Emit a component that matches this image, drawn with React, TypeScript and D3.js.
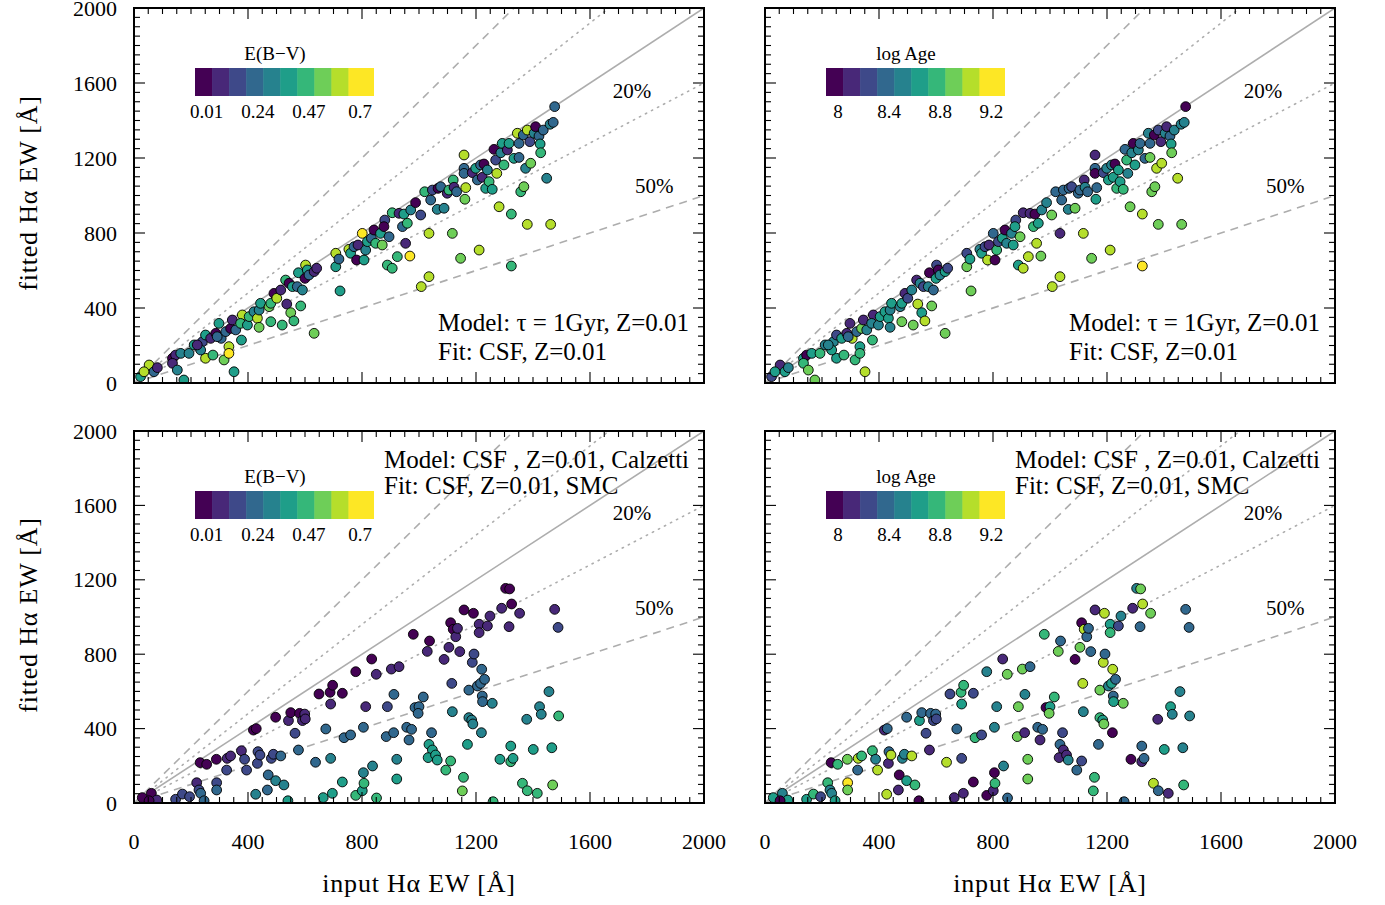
import React from "react";
import * as d3 from "d3";

// ---- Top row: model τ = 1 Gyr, Z=0.01 fitted with CSF, Z=0.01 ----
const topInputEW = [
  23, 53, 70, 82, 35, 135, 146, 135, 152, 175,
  164, 193, 211, 228, 240, 251, 251, 277, 269, 287,
  298, 306, 316, 333, 333, 322, 339, 345, 351, 357,
  380, 374, 377, 398, 404, 421, 433, 439, 439, 444,
  474, 480, 480, 491, 501, 515, 520, 532, 536, 544,
  550, 556, 561, 573, 577, 585, 591, 600, 602, 608,
  614, 632, 641, 632, 708, 708, 719, 723, 754, 760,
  772, 781, 786, 801, 807, 813, 819, 833, 842, 848,
  871, 865, 880, 877, 895, 889, 906, 906, 924, 930,
  942, 947, 953, 959, 968, 971, 988, 1006, 1008, 1020,
  1035, 1035, 1041, 1047, 1064, 1067, 1076, 1088, 1099, 1105,
  1117, 1120, 1123, 1132, 1146, 1158, 1158, 1158, 1161, 1164,
  1187, 1199, 1205, 1211, 1216, 1228, 1222, 1234, 1240, 1246,
  1257, 1263, 1269, 1273, 1281, 1287, 1292, 1298, 1310, 1316,
  1324, 1324, 1333, 1345, 1351, 1357, 1366, 1368, 1374, 1380,
  1380, 1389, 1392, 1351, 1404, 1409, 1421, 1425, 1427, 1436,
  1448, 1462, 1460, 1471, 1476, 234, 222, 292,
];
const topFittedEW = [
  34, 96, 60, 82, 60, 132, 149, 105, 69, 16,
  158, 158, 203, 194, 220, 256, 132, 149, 238, 265,
  318, 238, 123, 194, 158, 274, 291, 336, 60, 283,
  363, 318, 229, 309, 354, 380, 345, 389, 297, 425,
  407, 327, 425, 478, 452, 496, 309, 549, 421, 532,
  375, 514, 331, 514, 588, 411, 496, 558, 629, 603,
  576, 594, 612, 265, 692, 620, 661, 491, 713, 692,
  727, 656, 736, 798, 656, 709, 754, 772, 816, 745,
  736, 798, 869, 834, 780, 629, 908, 612, 674, 905,
  834, 901, 745, 852, 677, 923, 962, 896, 514, 1020,
  567, 798, 976, 1029, 926, 1038, 1047, 932, 1012, 1029,
  798, 1083, 1044, 1020, 665, 1216, 1145, 1118, 980, 1042,
  1122, 1145, 1083, 709, 1163, 1168, 1097, 1038, 1136, 1074,
  1033, 1246, 1189, 1118, 940, 1228, 1278, 1163, 1243, 1278,
  624, 901, 1198, 1332, 1278, 1020, 1323, 1047, 1145, 846,
  1349, 1287, 1172, 1203, 1332, 1367, 1317, 1275, 1228, 1349,
  1092, 846, 1380, 1390, 1474, 176, 203, 247,
];
const topEBV = [
  0.38, 0.6, 0.23, 0.08, 0.6, 0, 0.08, 0.08, 0.3, 0.38,
  0.3, 0.3, 0.38, 0.3, 0.15, 0.38, 0.6, 0.45, 0.08, 0,
  0.38, 0.23, 0.53, 0.6, 0.7, 0.23, 0, 0.08, 0.38, 0.23,
  0.6, 0.45, 0.38, 0.38, 0.45, 0.3, 0.6, 0.3, 0.53, 0.38,
  0.53, 0.45, 0.45, 0, 0.6, 0.08, 0.45, 0.45, 0.08, 0,
  0.53, 0.38, 0.45, 0.23, 0.38, 0.45, 0.3, 0, 0.6, 0.38,
  0.23, 0.08, 0.08, 0.53, 0.6, 0.38, 0.23, 0.38, 0.6, 0.38,
  0.23, 0, 0.08, 0.7, 0.38, 0.3, 0.38, 0.23, 0, 0.45,
  0.53, 0.38, 0.15, 0, 0.23, 0.45, 0.45, 0.45, 0.45, 0.08,
  0.23, 0.38, 0.08, 0.45, 0.7, 0.3, 0, 0.15, 0.6, 0.45,
  0.6, 0.6, 0.23, 0.15, 0.3, 0, 0.23, 0.3, 0.08, 0.45,
  0.53, 0.45, 0.08, 0.23, 0.53, 0.6, 0.23, 0.23, 0.53, 0.6,
  0.08, 0.38, 0.23, 0.6, 0.23, 0, 0.08, 0.38, 0.3, 0.45,
  0.38, 0, 0.15, 0.6, 0.6, 0.3, 0.38, 0.45, 0.08, 0.38,
  0.45, 0.45, 0.38, 0.6, 0.23, 0.45, 0.23, 0.53, 0.3, 0.6,
  0.6, 0.15, 0.53, 0.23, 0.3, 0, 0.23, 0.38, 0.45, 0.23,
  0.3, 0.6, 0.3, 0.23, 0.23, 0.3, 0.08, 0.23,
];
const topLogAge = [
  8.25, 8.1, 8.65, 8.5, 8.65, 8.65, 8.0, 8.8, 8.9, 8.9,
  8.65, 8.8, 8.5, 8.65, 8.5, 8.25, 8.65, 8.8, 8.65, 8.1,
  8.1, 9.05, 8.8, 8.65, 8.8, 8.4, 8.9, 8.1, 9.05, 8.5,
  8.1, 8.5, 8.8, 8.5, 8.65, 8.65, 8.65, 8.5, 8.5, 8.65,
  8.5, 8.9, 8.65, 8.1, 8.25, 8.5, 8.9, 8.1, 9.05, 8.5,
  8.65, 8.25, 9.05, 8.5, 8.0, 8.9, 8.4, 8.65, 8.25, 8.0,
  8.5, 8.65, 8.25, 8.9, 8.25, 8.9, 8.65, 8.9, 8.5, 8.65,
  8.25, 9.05, 8.1, 8.4, 8.0, 8.8, 8.25, 8.65, 8.0, 8.5,
  8.65, 8.5, 8.25, 8.65, 8.9, 8.65, 8.1, 9.05, 9.05, 8.1,
  8.8, 8.0, 9.05, 8.65, 8.9, 8.5, 8.5, 8.9, 9.05, 8.4,
  9.05, 8.1, 8.4, 8.4, 8.5, 8.4, 8.25, 8.9, 8.4, 8.4,
  9.05, 8.1, 8.5, 8.4, 8.9, 8.1, 8.4, 8.0, 8.65, 8.4,
  8.25, 8.5, 8.65, 9.05, 8.5, 8.0, 8.65, 8.8, 8.65, 8.65,
  8.8, 8.4, 8.8, 8.5, 8.9, 8.5, 8.0, 8.65, 8.5, 8.4,
  9.2, 9.05, 8.4, 8.5, 8.4, 8.9, 8.0, 8.9, 9.05, 8.9,
  8.25, 8.1, 9.05, 8.9, 8.5, 8.1, 8.4, 8.65, 8.9, 8.5,
  9.05, 8.9, 8.5, 8.5, 8.0, 8.65, 8.5, 8.4,
];

// ---- Bottom row: CSF with Calzetti dust fitted with CSF and SMC dust ----
const botInputEW = [
  29, 61, 80, 53, 146, 170, 195, 220, 228, 234,
  246, 232, 255, 289, 290, 290, 325, 327, 339, 377,
  388, 395, 419, 429, 427, 433, 435, 442, 468, 471,
  482, 489, 497, 497, 515, 526, 540, 542, 550, 565,
  577, 581, 591, 599, 601, 637, 649, 664, 673, 690,
  688, 690, 696, 697, 731, 731, 737, 760, 778, 778,
  801, 805, 807, 805, 813, 834, 837, 850, 851, 889,
  885, 903, 911, 912, 922, 922, 930, 957, 974, 965,
  980, 986, 1000, 997, 1015, 1029, 1037, 1035, 1044, 1047,
  1032, 1058, 1064, 1088, 1094, 1105, 1111, 1111, 1115, 1117,
  1120, 1129, 1135, 1143, 1152, 1156, 1158, 1170, 1175, 1175,
  1185, 1189, 1187, 1193, 1191, 1205, 1211, 1211, 1216, 1219,
  1220, 1222, 1223, 1230, 1240, 1249, 1257, 1260, 1284, 1290,
  1304, 1318, 1316, 1322, 1322, 1330, 1325, 1353, 1363, 1378,
  1380, 1401, 1415, 1423, 1429, 1456, 1466, 1469, 1476, 1488,
  1490,
];
const botFittedEW = [
  29, 52, 16, 12, 20, 48, 34, 109, 70, 52,
  12, 217, 208, 235, 109, 70, 177, 240, 253, 281,
  235, 177, 392, 400, 47, 213, 276, 258, 70, 151,
  240, 262, 120, 461, 253, 97, 12, 443, 486, 375,
  285, 482, 443, 478, 452, 219, 586, 29, 398, 240,
  595, 532, 52, 633, 590, 113, 351, 366, 706, 41,
  66, 163, 106, 407, 518, 774, 199, 692, 27, 518,
  357, 720, 378, 584, 235, 129, 733, 407, 396, 339,
  907, 513, 518, 482, 570, 815, 871, 315, 378, 285,
  244, 258, 231, 772, 177, 837, 969, 226, 643, 491,
  934, 894, 939, 814, 65, 138, 1038, 315, 607, 459,
  446, 425, 756, 801, 1020, 629, 961, 916, 643, 378,
  719, 575, 545, 665, 952, 1005, 536, 7, 235, 1047,
  1154, 1151, 948, 306, 222, 240, 1070, 1020, 106, 450,
  66, 288, 52, 518, 477, 599, 297, 97, 1041, 944,
  468,
];
const botEBV = [
  0, 0, 0.08, 0, 0.15, 0.15, 0.15, 0.08, 0.15, 0.23,
  0.23, 0, 0, 0, 0.15, 0.23, 0.15, 0.08, 0.08, 0.08,
  0.15, 0.15, 0, 0, 0.3, 0.15, 0.15, 0.15, 0.23, 0.23,
  0.15, 0.15, 0.3, 0, 0.23, 0.3, 0.38, 0.08, 0, 0.15,
  0.23, 0, 0.08, 0.08, 0.08, 0.23, 0, 0.38, 0.23, 0.3,
  0, 0.08, 0.38, 0, 0, 0.38, 0.23, 0.23, 0, 0.45,
  0.38, 0.3, 0.45, 0.23, 0.08, 0, 0.3, 0.08, 0.45, 0.15,
  0.23, 0.08, 0.23, 0.23, 0.3, 0.38, 0.08, 0.23, 0.23, 0.23,
  0, 0.23, 0.23, 0.23, 0.23, 0.08, 0, 0.38, 0.23, 0.38,
  0.38, 0.38, 0.38, 0.08, 0.45, 0.08, 0, 0.45, 0.15, 0.3,
  0, 0.08, 0.08, 0.08, 0.53, 0.45, 0, 0.38, 0.23, 0.3,
  0.3, 0.3, 0.15, 0.15, 0, 0.23, 0.08, 0.08, 0.23, 0.3,
  0.23, 0.23, 0.23, 0.23, 0.08, 0.08, 0.3, 0.45, 0.38, 0.08,
  0, 0, 0.08, 0.38, 0.45, 0.38, 0, 0.08, 0.45, 0.3,
  0.45, 0.38, 0.45, 0.3, 0.3, 0.3, 0.38, 0.53, 0.08, 0.15,
  0.45,
];
const botLogAge = [
  8.65, 8.5, 8.65, 8.0, 8.65, 8.8, 8.25, 8.8, 8.5, 8.5,
  8.65, 8.0, 8.8, 8.9, 9.2, 8.9, 8.4, 9.05, 8.8, 8.8,
  8.5, 9.05, 8.1, 8.4, 9.05, 8.1, 8.4, 9.05, 8.1, 8.0,
  8.5, 8.5, 8.65, 8.4, 9.05, 8.8, 8.0, 8.65, 8.4, 8.25,
  8.1, 8.4, 8.25, 8.4, 8.25, 9.05, 8.25, 8.1, 8.4, 8.25,
  8.8, 8.65, 8.1, 8.8, 8.25, 8.0, 8.8, 8.25, 8.5, 8.0,
  8.1, 8.0, 8.8, 8.5, 8.5, 8.1, 8.5, 8.9, 8.4, 8.9,
  8.9, 8.9, 8.1, 8.5, 8.9, 8.9, 8.4, 8.4, 8.4, 8.1,
  8.8, 8.0, 8.65, 8.9, 8.8, 8.9, 8.4, 8.4, 8.25, 8.1,
  8.1, 8.1, 8.5, 8.0, 8.4, 8.9, 8.0, 8.25, 9.05, 8.5,
  9.05, 8.4, 8.4, 8.4, 8.8, 8.8, 8.1, 8.4, 8.9, 8.8,
  8.65, 8.9, 9.05, 8.4, 9.05, 8.5, 8.65, 8.8, 8.65, 8.0,
  9.05, 8.4, 8.65, 8.4, 8.25, 8.5, 8.9, 8.4, 8.0, 8.1,
  8.5, 8.9, 8.4, 8.4, 8.1, 8.4, 9.05, 8.9, 9.05, 8.1,
  8.4, 8.65, 8.1, 8.65, 8.5, 8.5, 8.5, 8.8, 8.4, 8.4,
  8.5,
];

// Reference lines: y = k·x
const RATIO_SOLID = [1];
const RATIO_DOTTED = [1.2, 0.8];
const RATIO_DASHED = [1.5, 0.5];

// Axis ticks
const MAJOR_TICKS = [0, 400, 800, 1200, 1600, 2000];
const MINOR_STEP = 50;

// Colour bars: 10 discrete viridis bins
const EBV_BINS = { lo: -0.0426, step: 0.0767 };
const EBV_TICKS = [0.01, 0.24, 0.47, 0.7];
const AGE_BINS = { lo: 7.9067, step: 0.13333 };
const AGE_TICKS = [8, 8.4, 8.8, 9.2];
const N_BINS = 10;

const VIRIDIS = d3.quantize(d3.interpolateViridis, N_BINS);
const FONT = "'Liberation Serif', 'DejaVu Serif', serif";

type Bins = { lo: number; step: number };
type Row = { x: number[]; y: number[] };
type PanelSpec = {
  x0: number; x1: number; y0: number; y1: number;
  row: Row; values: number[]; bins: Bins; ticks: number[]; title: string;
  model: string; fit: string; textTop: boolean;
  showYLabels: boolean; showXLabels: boolean;
};

const topRow: Row = { x: topInputEW, y: topFittedEW };
const botRow: Row = { x: botInputEW, y: botFittedEW };

const PANELS: PanelSpec[] = [
  { x0: 134, x1: 704, y0: 8, y1: 383, row: topRow, values: topEBV, bins: EBV_BINS, ticks: EBV_TICKS,
    title: "E(B\u2212V)", model: "Model: \u03c4 = 1Gyr, Z=0.01", fit: "Fit: CSF, Z=0.01", textTop: false,
    showYLabels: true, showXLabels: false },
  { x0: 765, x1: 1335, y0: 8, y1: 383, row: topRow, values: topLogAge, bins: AGE_BINS, ticks: AGE_TICKS,
    title: "log Age", model: "Model: \u03c4 = 1Gyr, Z=0.01", fit: "Fit: CSF, Z=0.01", textTop: false,
    showYLabels: false, showXLabels: false },
  { x0: 134, x1: 704, y0: 431, y1: 803, row: botRow, values: botEBV, bins: EBV_BINS, ticks: EBV_TICKS,
    title: "E(B\u2212V)", model: "Model: CSF , Z=0.01, Calzetti", fit: "Fit: CSF, Z=0.01, SMC", textTop: true,
    showYLabels: true, showXLabels: true },
  { x0: 765, x1: 1335, y0: 431, y1: 803, row: botRow, values: botLogAge, bins: AGE_BINS, ticks: AGE_TICKS,
    title: "log Age", model: "Model: CSF , Z=0.01, Calzetti", fit: "Fit: CSF, Z=0.01, SMC", textTop: true,
    showYLabels: false, showXLabels: true },
];

function Panel({ p, idx }: { p: PanelSpec; idx: number }) {
  const x = d3.scaleLinear().domain([0, 2000]).range([p.x0, p.x1]);
  const y = d3.scaleLinear().domain([0, 2000]).range([p.y1, p.y0]);
  const color = d3
    .scaleQuantize<string>()
    .domain([p.bins.lo, p.bins.lo + N_BINS * p.bins.step])
    .range(VIRIDIS);
  const clipId = `clip-${idx}`;
  const minor = d3.range(0, 2000 + 1, MINOR_STEP).filter((v) => v % 400 !== 0);
  const majLen = 11;
  const minLen = 6;
  const line = (k: number) => {
    const xe = Math.min(2000, 2000 / k);
    return { x1: x(0), y1: y(0), x2: x(xe), y2: y(k * xe) };
  };

  // colour bar geometry: nine equal cells followed by a wider last cell
  const cbX = p.x0 + 61;
  const cbY = p.y0 + 60;
  const cbW = 179;
  const cbH = 28;
  const cell = cbW / 10.5;
  const cbPos = (v: number) => cbX + ((v - p.bins.lo) / p.bins.step) * cell;

  const order = d3.range(p.row.x.length);
  const annot = p.textTop
    ? { x: p.x0 + 250, y1: p.y0 + 37, y2: p.y0 + 63 }
    : { x: p.x0 + 304, y1: p.y0 + 323, y2: p.y0 + 352 };

  return (
    <g>
      <defs>
        <clipPath id={clipId}>
          <rect x={p.x0} y={p.y0} width={p.x1 - p.x0} height={p.y1 - p.y0} />
        </clipPath>
      </defs>
      <g clipPath={`url(#${clipId})`} fill="none" stroke="#adadad" strokeWidth={1.6}>
        {RATIO_SOLID.map((k) => <line key={`s${k}`} {...line(k)} />)}
        {RATIO_DOTTED.map((k) => (
          <line key={`d${k}`} {...line(k)} strokeDasharray="1.3 5.5" strokeLinecap="round" />
        ))}
        {RATIO_DASHED.map((k) => <line key={`q${k}`} {...line(k)} strokeDasharray="8 6" />)}
      </g>
      <g clipPath={`url(#${clipId})`}>
        {order.map((i) => (
          <circle
            key={i}
            cx={x(p.row.x[i])}
            cy={y(p.row.y[i])}
            r={4.9}
            fill={color(p.values[i])}
            stroke="#000"
            strokeWidth={0.9}
          />
        ))}
      </g>
      {/* ticks on all four sides, pointing inward */}
      <g stroke="#000" strokeWidth={1.1}>
        {MAJOR_TICKS.map((v) => (
          <g key={`M${v}`}>
            <line x1={x(v)} x2={x(v)} y1={p.y1} y2={p.y1 - majLen} />
            <line x1={x(v)} x2={x(v)} y1={p.y0} y2={p.y0 + majLen} />
            <line y1={y(v)} y2={y(v)} x1={p.x0} x2={p.x0 + majLen} />
            <line y1={y(v)} y2={y(v)} x1={p.x1} x2={p.x1 - majLen} />
          </g>
        ))}
        {minor.map((v) => (
          <g key={`m${v}`}>
            <line x1={x(v)} x2={x(v)} y1={p.y1} y2={p.y1 - minLen} />
            <line x1={x(v)} x2={x(v)} y1={p.y0} y2={p.y0 + minLen} />
            <line y1={y(v)} y2={y(v)} x1={p.x0} x2={p.x0 + minLen} />
            <line y1={y(v)} y2={y(v)} x1={p.x1} x2={p.x1 - minLen} />
          </g>
        ))}
      </g>
      <rect x={p.x0} y={p.y0} width={p.x1 - p.x0} height={p.y1 - p.y0} fill="none" stroke="#000" strokeWidth={2} />

      <g fontFamily={FONT} fill="#000">
        {p.showYLabels &&
          MAJOR_TICKS.map((v) => (
            <text key={`yl${v}`} x={p.x0 - 17} y={y(v) + 7.5} fontSize={22} textAnchor="end">
              {v}
            </text>
          ))}
        {p.showXLabels &&
          MAJOR_TICKS.map((v) => (
            <text key={`xl${v}`} x={x(v)} y={p.y1 + 46} fontSize={22} textAnchor="middle">
              {v}
            </text>
          ))}
        <text x={x(1747)} y={y(1557) + 7} fontSize={21} textAnchor="middle">20%</text>
        <text x={x(1825)} y={y(1051) + 7} fontSize={21} textAnchor="middle">50%</text>
        <text x={annot.x} y={annot.y1} fontSize={25}>{p.model}</text>
        <text x={annot.x} y={annot.y2} fontSize={25}>{p.fit}</text>
      </g>

      {/* colour bar */}
      <g>
        {VIRIDIS.map((c, k) => (
          <rect
            key={c}
            x={cbX + k * cell}
            y={cbY}
            width={k === N_BINS - 1 ? cbW - k * cell : cell + 0.5}
            height={cbH}
            fill={c}
          />
        ))}
        <text x={cbX + 80} y={cbY - 8} fontFamily={FONT} fontSize={19} textAnchor="middle">
          {p.title}
        </text>
        {p.ticks.map((t) => (
          <text key={t} x={cbPos(t)} y={cbY + cbH + 22} fontFamily={FONT} fontSize={19} textAnchor="middle">
            {t}
          </text>
        ))}
      </g>
    </g>
  );
}

export default function App() {
  return (
    <svg
      width={1385}
      height={905}
      style={{ position: "absolute", left: 0, top: 0, background: "#fff" }}
    >
      <rect width={1385} height={905} fill="#fff" />
      {PANELS.map((p, i) => (
        <Panel key={i} p={p} idx={i} />
      ))}
      <g fontFamily={FONT} fontSize={26} fill="#000" textAnchor="middle" letterSpacing={0.8}>
        <text transform="translate(37,193) rotate(-90)">fitted H&alpha; EW [&#197;]</text>
        <text transform="translate(37,615) rotate(-90)">fitted H&alpha; EW [&#197;]</text>
        <text x={419} y={892}>input H&alpha; EW [&#197;]</text>
        <text x={1050} y={892}>input H&alpha; EW [&#197;]</text>
      </g>
    </svg>
  );
}
